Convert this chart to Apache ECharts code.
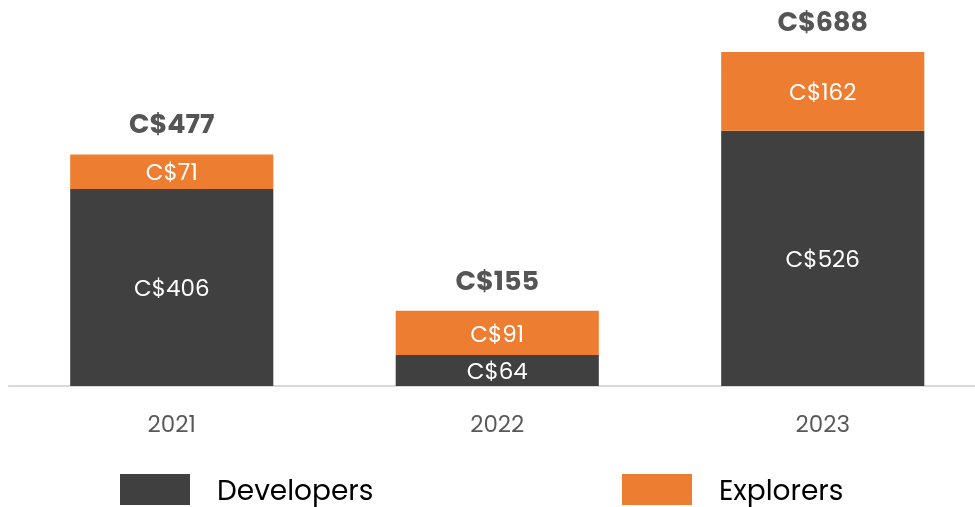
<!DOCTYPE html>
<html>
<head>
<meta charset="utf-8">
<script src="https://cdn.jsdelivr.net/npm/echarts@6/dist/echarts.min.js"></script>
<style>html,body{margin:0;padding:0;background:#fff}#c{width:975px;height:507px}</style>
</head>
<body>
<div id="c"></div>
<script>
const categories = ['2021', '2022', '2023'];
const developers = [406, 64, 526];
const explorers = [71, 91, 162];
const totals = categories.map((_, i) => developers[i] + explorers[i]);

const FONT = 'Poppins, Inter, "Noto Sans", sans-serif';
const chart = echarts.init(document.getElementById('c'), null, {renderer: 'canvas'});
const money = p => 'C$' + p.value;
const legendText = {
  fontSize: 28, color: '#000', fontFamily: FONT,
  rich: {a: {fontSize: 28, color: '#000', fontFamily: FONT, padding: [6, 0, 0, 22]}}
};
chart.setOption({
  animation: false,
  textStyle: {fontFamily: FONT},
  legend: [
    {left: 120, top: 474, itemWidth: 70, itemHeight: 31, itemGap: 0, data: ['Developers'], padding: 0,
     icon: 'rect', formatter: '{a|{name}}', textStyle: legendText},
    {left: 622, top: 474, itemWidth: 70, itemHeight: 31, itemGap: 0, data: ['Explorers'], padding: 0,
     icon: 'rect', formatter: '{a|{name}}', textStyle: legendText}
  ],
  grid: {left: 9, width: 976.5, top: 22, height: 364, containLabel: false, outerBoundsMode: 'none'},
  xAxis: {
    type: 'category', data: categories,
    axisLine: {lineStyle: {color: '#d9d9d9', width: 2}},
    axisTick: {show: false},
    axisLabel: {color: '#595959', fontSize: 23, margin: 29, fontFamily: FONT}
  },
  yAxis: {type: 'value', min: 0, max: 750, show: false, splitLine: {show: false}},
  series: [
    {name: 'Developers', type: 'bar', stack: 'a', data: developers, barWidth: '62.4%',
     itemStyle: {color: '#404040'},
     label: {show: true, position: 'inside', offset: [0, 3], color: '#fff', fontSize: 23, fontFamily: FONT, formatter: money}},
    {name: 'Explorers', type: 'bar', stack: 'a', data: explorers,
     itemStyle: {color: '#ED7D31'},
     label: {show: true, position: 'inside', offset: [0, 3], color: '#fff', fontSize: 23, fontFamily: FONT, formatter: money}},
    {name: 'Total', type: 'scatter', data: totals, symbolSize: 1,
     itemStyle: {color: 'rgba(0,0,0,0)', opacity: 1}, silent: true, z: 10,
     label: {show: true, position: 'top', distance: 14, color: '#555555', opacity: 1, fontSize: 27, fontWeight: 'bold', fontFamily: FONT, formatter: money}}
  ]
});
</script>
</body>
</html>
